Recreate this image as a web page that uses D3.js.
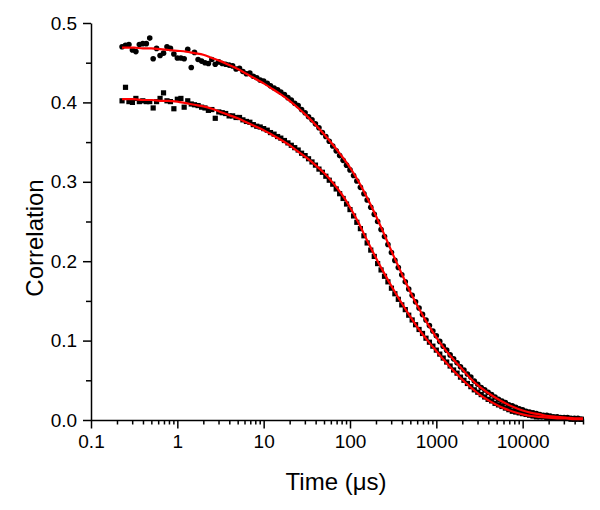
<!DOCTYPE html>
<html>
<head>
<meta charset="utf-8">
<script src="https://cdn.jsdelivr.net/npm/d3@7"></script>
<style>
  html, body { margin: 0; padding: 0; background: #fff; }
  text { font-family: "Liberation Sans", Arial, Helvetica, sans-serif; fill: #000; }
</style>
</head>
<body>
<script>
// ---- data ----
const times = [0.229,0.251,0.275,0.302,0.331,0.363,0.398,0.437,0.479,0.525,0.575,0.631,0.692,0.759,0.832,0.912,
1.00,1.10,1.20,1.32,1.45,1.58,1.74,1.91,2.09,2.29,2.51,2.75,3.02,3.31,3.63,3.98,4.37,4.79,5.25,5.75,6.31,6.92,7.59,8.32,9.12,
10.0,11.0,12.0,13.2,14.5,15.8,17.4,19.1,20.9,22.9,25.1,27.5,30.2,33.1,36.3,39.8,43.7,47.9,52.5,57.5,63.1,69.2,75.9,83.2,91.2,
100,110,120,132,145,158,174,191,209,229,251,275,302,331,363,398,437,479,525,575,631,692,759,832,912,
1000,1096,1202,1318,1445,1585,1738,1905,2089,2291,2512,2754,3020,3311,3631,3981,4365,4786,5248,5754,6310,6918,7586,8318,9120,
10000,10960,12020,13180,14450,15850,17380,19050,20890,22910,25120,27540,30200,33110,36310,39810,43650,47860];

const circlesSeries = [0.470,0.472,0.473,0.466,0.464,0.473,0.474,0.474,0.481,0.455,0.468,0.459,0.462,0.470,0.468,0.461,
0.456,0.456,0.455,0.467,0.444,0.463,0.454,0.452,0.450,0.449,0.454,0.448,0.451,0.449,0.448,0.447,0.446,0.442,0.443,0.439,0.436,0.437,0.433,0.431,0.428,
0.427,0.424,0.421,0.418,0.416,0.413,0.410,0.406,0.403,0.399,0.396,0.391,0.387,0.382,0.378,0.373,0.368,0.362,0.357,0.351,0.345,0.339,0.333,0.327,0.321,
0.315,0.308,0.301,0.293,0.285,0.277,0.268,0.259,0.250,0.240,0.231,0.221,0.211,0.201,0.192,0.183,0.174,0.165,0.157,0.149,0.141,0.133,0.126,0.119,0.112,
0.106,0.099,0.093,0.088,0.082,0.077,0.072,0.067,0.063,0.058,0.054,0.049,0.045,0.041,0.038,0.035,0.032,0.029,0.026,0.024,0.022,0.019,0.018,0.016,0.014,
0.013,0.011,0.010,0.009,0.008,0.007,0.006,0.006,0.005,0.004,0.004,0.003,0.003,0.003,0.002,0.002,0.002,0.001];

const squaresSeries = [0.402,0.419,0.401,0.400,0.405,0.401,0.402,0.401,0.401,0.393,0.401,0.405,0.412,0.402,0.401,0.392,
0.404,0.405,0.394,0.402,0.398,0.397,0.396,0.394,0.393,0.390,0.391,0.380,0.388,0.387,0.386,0.383,0.383,0.381,0.381,0.378,0.376,0.375,0.372,0.370,0.369,
0.367,0.365,0.362,0.360,0.357,0.355,0.352,0.349,0.346,0.343,0.340,0.336,0.333,0.329,0.325,0.321,0.316,0.312,0.307,0.302,0.297,0.291,0.285,0.279,0.272,
0.265,0.257,0.249,0.241,0.232,0.223,0.214,0.206,0.197,0.189,0.181,0.174,0.166,0.159,0.152,0.145,0.139,0.132,0.126,0.120,0.114,0.109,0.103,0.098,0.093,
0.088,0.083,0.078,0.073,0.068,0.063,0.059,0.054,0.050,0.046,0.042,0.038,0.035,0.032,0.029,0.026,0.024,0.021,0.019,0.017,0.015,0.013,0.011,0.010,0.009,
0.008,0.007,0.006,0.005,0.004,0.004,0.004,0.003,0.003,0.003,0.002,0.002,0.002,0.002,0.001,0.001,0.001,0.001];

const fitTimes = [0.229,0.251,0.316,0.398,0.501,0.631,0.794,1,1.26,1.58,2.00,2.51,3.16,3.98,5.01,6.31,7.94,
10,12.6,15.8,20.0,25.1,31.6,39.8,50.1,63.1,79.4,100,126,158,200,251,316,398,501,631,794,
1000,1259,1585,1995,2512,3162,3981,5012,6310,7943,10000,12589,15849,19953,25119,31623,39811,50000];

const circlesFit = [0.469,0.469,0.469,0.468,0.468,0.467,0.466,0.465,0.464,0.462,0.460,0.456,0.452,0.447,0.442,0.436,0.430,
0.424,0.417,0.410,0.402,0.393,0.383,0.372,0.360,0.347,0.333,0.318,0.300,0.280,0.257,0.233,0.208,0.184,0.161,0.140,0.121,
0.104,0.089,0.076,0.064,0.052,0.042,0.034,0.027,0.021,0.016,0.012,0.009,0.007,0.005,0.004,0.003,0.002,0.002];

const squaresFit = [0.404,0.404,0.404,0.403,0.403,0.402,0.402,0.401,0.399,0.397,0.395,0.392,0.388,0.384,0.380,0.375,0.370,
0.365,0.359,0.353,0.346,0.338,0.330,0.321,0.311,0.299,0.285,0.268,0.248,0.226,0.204,0.184,0.165,0.147,0.130,0.114,0.100,
0.087,0.074,0.062,0.051,0.041,0.032,0.025,0.019,0.014,0.010,0.007,0.005,0.004,0.003,0.002,0.002,0.001,0.001];

const xTickValues = [0.1, 1, 10, 100, 1000, 10000];
const xTickLabels = ["0.1", "1", "10", "100", "1000", "10000"];
const yTickValues = [0.0, 0.1, 0.2, 0.3, 0.4, 0.5];
const yTickLabels = ["0.0", "0.1", "0.2", "0.3", "0.4", "0.5"];
const xTitle = "Time (\u03bcs)";
const yTitle = "Correlation";

// ---- drawing ----
const W = 600, H = 510;
const svg = d3.select("body").append("svg").attr("width", W).attr("height", H);

const x = d3.scaleLog().domain([0.1, 50000]).range([91, 583]);
const y = d3.scaleLinear().domain([0, 0.5]).range([420, 23]);

const xMinor = x.ticks().filter(d => !xTickValues.includes(d));
const yMinor = d3.range(0.05, 0.5, 0.1);

// minor ticks
svg.append("g").attr("transform", "translate(0,420)")
  .call(d3.axisBottom(x).tickValues(xMinor).tickSize(4.5).tickSizeOuter(0).tickFormat(""))
  .call(g => g.select(".domain").remove());
svg.append("g").attr("transform", "translate(91,0)")
  .call(d3.axisLeft(y).tickValues(yMinor).tickSize(5).tickSizeOuter(0).tickFormat(""))
  .call(g => g.select(".domain").remove());

// major axes
const xAxis = svg.append("g").attr("transform", "translate(0,420)")
  .call(d3.axisBottom(x).tickValues(xTickValues).tickSize(8.5).tickSizeOuter(0)
    .tickFormat((d, i) => xTickLabels[i]));
const yAxis = svg.append("g").attr("transform", "translate(91,0)")
  .call(d3.axisLeft(y).tickValues(yTickValues).tickSize(8).tickSizeOuter(0)
    .tickFormat((d, i) => yTickLabels[i]));

[xAxis, yAxis].forEach(g => {
  g.selectAll("path").attr("stroke", "#000").attr("stroke-width", 1.5);
  g.selectAll("text").style("font-size", "19px").attr("fill", "#000");
});
xAxis.selectAll("text").attr("dy", "0.85em");
yAxis.selectAll("text").attr("dx", "-0.15em");
svg.selectAll("g line").attr("stroke", "#000").attr("stroke-width", 1.5);

// data points
const pts = times.map((t, i) => ({t, c: circlesSeries[i], s: squaresSeries[i]}));
svg.append("g").selectAll("circle").data(pts).join("circle")
  .attr("cx", d => x(d.t)).attr("cy", d => y(d.c)).attr("r", 2.8).attr("fill", "#000");
const sq = 5.2;
svg.append("g").selectAll("rect").data(pts).join("rect")
  .attr("x", d => x(d.t) - sq/2).attr("y", d => y(d.s) - sq/2)
  .attr("width", sq).attr("height", sq).attr("fill", "#000");

// fit lines
const line = d3.line().x(d => x(d[0])).y(d => y(d[1])).curve(d3.curveMonotoneX);
[circlesFit, squaresFit].forEach(f => {
  svg.append("path").datum(fitTimes.map((t, i) => [t, f[i]]))
    .attr("d", line).attr("fill", "none").attr("stroke", "#ff0000").attr("stroke-width", 2.2);
});

// titles
svg.append("text").attr("x", 336).attr("y", 490).attr("text-anchor", "middle")
  .style("font-size", "24px").text(xTitle);
svg.append("text").attr("transform", "translate(43,238) rotate(-90)").attr("text-anchor", "middle")
  .style("font-size", "24px").text(yTitle);
</script>
</body>
</html>
